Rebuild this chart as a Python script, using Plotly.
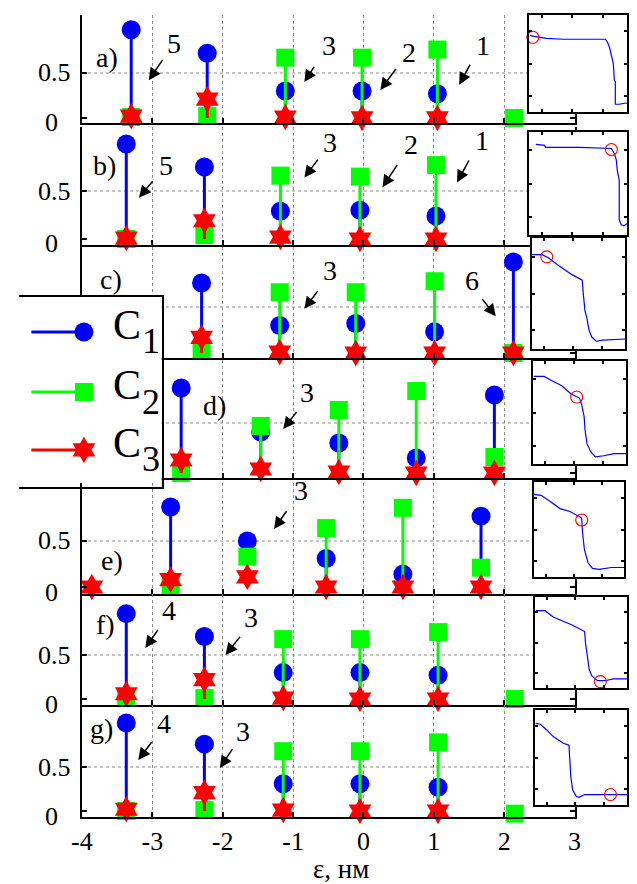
import plotly.graph_objects as go

FONT = "Liberation Serif"
BLUE, GREEN, RED = "#0000ff", "#00ff00", "#ff0000"
W, H = 637, 884

# ---------------- stem data: energy (x) and populations C1, C2, C3 ----------------
a_x = [-3.30, -2.22, -1.11, -0.02, 1.05, 2.14]
a_c1 = [0.98, 0.72, 0.30, 0.30, 0.27, None]
a_c2 = [0.01, 0.02, 0.67, 0.67, 0.76, 0.00]
a_c3 = [0.02, 0.21, 0.01, 0.00, 0.00, None]

b_x = [-3.37, -2.26, -1.18, -0.05, 1.03]
b_c1 = [0.99, 0.75, 0.29, 0.30, 0.24]
b_c2 = [0.00, 0.04, 0.66, 0.65, 0.77]
b_c3 = [0.01, 0.19, 0.02, 0.00, 0.00]

c_x = [-2.30, -1.19, -0.11, 1.01, 2.13]
c_c1 = [0.76, 0.30, 0.32, 0.23, 0.99]
c_c2 = [0.03, 0.66, 0.66, 0.78, 0.00]
c_c3 = [0.17, 0.01, 0.00, 0.00, 0.00]

d_x = [-2.59, -1.46, -0.35, 0.75, 1.86]
d_c1 = [0.85, 0.41, 0.30, 0.15, 0.78]
d_c2 = [0.00, 0.47, 0.63, 0.82, 0.16]
d_c3 = [0.13, 0.04, 0.01, 0.00, 0.00]

e_x = [-3.86, -2.74, -1.65, -0.53, 0.56, 1.67]
e_c1 = [None, 0.87, 0.50, 0.31, 0.14, 0.77]
e_c2 = [None, 0.00, 0.33, 0.64, 0.86, 0.21]
e_c3 = [0.00, 0.08, 0.11, 0.00, 0.00, 0.00]

f_x = [-3.37, -2.26, -1.14, -0.05, 1.06, 2.15]
f_c1 = [0.97, 0.71, 0.30, 0.30, 0.27, None]
f_c2 = [0.01, 0.01, 0.68, 0.68, 0.76, 0.00]
f_c3 = [0.06, 0.22, 0.01, 0.00, 0.00, None]

g_x = [-3.37, -2.26, -1.14, -0.05, 1.06, 2.15]
g_c1 = [1.00, 0.76, 0.31, 0.31, 0.27, None]
g_c2 = [0.00, 0.01, 0.68, 0.68, 0.78, -0.03]
g_c3 = [0.02, 0.21, 0.01, 0.00, 0.00, None]

x_ticks = [-4, -3, -2, -1, 0, 1, 2, 3]
x_ticktext = ["-4", "-3", "-2", "-1", "0", "1", "2", "3"]

# ---------------- inset curves (normalised coordinates) with marked point ----------------
ia_x = [0.01, 0.05, 0.18, 0.35, 0.78, 0.80, 0.82, 0.83, 0.86, 0.87, 0.88, 0.88, 0.92, 0.97, 1.00]
ia_y = [0.79, 0.78, 0.76, 0.75, 0.75, 0.72, 0.67, 0.62, 0.50, 0.33, 0.31, 0.08, 0.08, 0.09, 0.09]
ia_mark = (0.04, 0.77)

ib_x = [0.07, 0.16, 0.17, 0.44, 0.52, 0.84, 0.87, 0.89, 0.90, 0.92, 0.92, 0.94, 0.97, 1.00]
ib_y = [0.88, 0.87, 0.85, 0.85, 0.85, 0.84, 0.79, 0.73, 0.63, 0.53, 0.15, 0.10, 0.09, 0.11]
ib_mark = (0.84, 0.83)

ic_x = [0.00, 0.11, 0.18, 0.29, 0.43, 0.54, 0.55, 0.57, 0.59, 0.61, 0.64, 0.69, 0.76, 1.00]
ic_y = [0.85, 0.85, 0.82, 0.75, 0.67, 0.62, 0.51, 0.34, 0.28, 0.18, 0.11, 0.07, 0.08, 0.09]
ic_mark = (0.16, 0.83)

id_x = [0.01, 0.12, 0.20, 0.31, 0.41, 0.50, 0.52, 0.55, 0.56, 0.58, 0.62, 0.67, 0.76, 0.87, 1.00]
id_y = [0.85, 0.85, 0.81, 0.76, 0.68, 0.64, 0.59, 0.46, 0.33, 0.20, 0.12, 0.07, 0.08, 0.10, 0.10]
id_mark = (0.47, 0.65)

ie_x = [0.00, 0.08, 0.19, 0.29, 0.40, 0.47, 0.53, 0.54, 0.56, 0.60, 0.65, 0.72, 0.79, 0.86, 1.00]
ie_y = [0.87, 0.86, 0.79, 0.72, 0.69, 0.65, 0.62, 0.46, 0.29, 0.15, 0.09, 0.08, 0.09, 0.10, 0.10]
ie_mark = (0.53, 0.60)

if_x = [0.01, 0.11, 0.20, 0.31, 0.41, 0.54, 0.55, 0.57, 0.59, 0.62, 0.68, 0.76, 0.85, 1.00]
if_y = [0.85, 0.85, 0.78, 0.73, 0.69, 0.62, 0.49, 0.35, 0.20, 0.13, 0.08, 0.08, 0.10, 0.10]
if_mark = (0.71, 0.07)

ig_x = [0.01, 0.06, 0.13, 0.20, 0.31, 0.37, 0.38, 0.39, 0.41, 0.45, 0.48, 0.54, 0.66, 1.00]
ig_y = [0.86, 0.85, 0.79, 0.72, 0.65, 0.63, 0.47, 0.30, 0.16, 0.09, 0.08, 0.11, 0.11, 0.11]
ig_mark = (0.82, 0.11)

# ---------------- panel configuration ----------------
# axis number, pixel box (top, bottom), y range, label position, annotations
panels = [
    dict(key="a", n=1, box=(15, 123), yr=(-0.056, 1.144), x=a_x, c=(a_c1, a_c2, a_c3),
         label=(-3.65, 0.67), yt=True,
         arrows=[("5", -2.69, 0.83, -3.05, 0.42, 15, -22), ("3", -0.49, 0.81, -0.84, 0.40, 11, -17),
                 ("2", 0.65, 0.73, 0.24, 0.31, 17, -23), ("1", 1.70, 0.81, 1.36, 0.37, 12, -22)],
         inset=(ia_x, ia_y, ia_mark, (533, 634, 15, 112))),
    dict(key="b", n=2, box=(127, 245), yr=(-0.0625, 1.167), x=b_x, c=(b_c1, b_c2, b_c3),
         label=(-3.68, 0.77), yt=True,
         arrows=[("5", -2.81, 0.77, -3.19, 0.43, 15, -18), ("3", -0.48, 1.01, -0.84, 0.64, 15, -20),
                 ("2", 0.67, 0.98, 0.27, 0.54, 16, -24), ("1", 1.69, 1.03, 1.33, 0.59, 13, -24)],
         inset=(ib_x, ib_y, ib_mark, (533, 634, 132, 235))),
    dict(key="c", n=3, box=(247, 358), yr=(-0.054, 1.152), x=c_x, c=(c_c1, c_c2, c_c3),
         label=(-3.59, 0.80), yt=False,
         arrows=[("3", -0.48, 0.90, -0.84, 0.48, 15, -20), ("6", 1.54, 0.79, 1.88, 0.40, -15, -19)],
         inset=(ic_x, ic_y, ic_mark, (536, 632, 238, 349))),
    dict(key="d", n=4, box=(360, 478), yr=(-0.05, 1.13), x=d_x, c=(d_c1, d_c2, d_c3),
         label=(-2.12, 0.68), yt=False,
         arrows=[("3", -0.80, 0.81, -1.14, 0.44, 15, -19)],
         inset=(id_x, id_y, id_mark, (537, 633, 361, 464))),
    dict(key="e", n=6, box=(483, 594), yr=(-0.076, 1.13), x=e_x, c=(e_c1, e_c2, e_c3),
         label=(-3.57, 0.29), yt=True,
         arrows=[("3", -0.89, 1.05, -1.27, 0.63, 14, -20)],
         inset=(ie_x, ie_y, ie_mark, (538, 631, 482, 577))),
    dict(key="f", n=7, box=(594, 705), yr=(-0.068, 1.193), x=f_x, c=(f_c1, f_c2, f_c3),
         label=(-3.67, 0.85), yt=True,
         arrows=[("4", -2.76, 1.01, -3.10, 0.58, 14, -20), ("3", -1.60, 0.93, -1.96, 0.50, 16, -20)],
         inset=(if_x, if_y, if_mark, (539, 634, 597, 688))),
    dict(key="g", n=8, box=(705, 817), yr=(-0.068, 1.205), x=g_x, c=(g_c1, g_c2, g_c3),
         label=(-3.72, 0.94), yt=True,
         arrows=[("4", -2.84, 1.00, -3.20, 0.58, 15, -20), ("3", -1.71, 0.90, -2.04, 0.49, 14, -21)],
         inset=(ig_x, ig_y, ig_mark, (539, 634, 710, 805))),
]
LEGEND_N = 5

series_style = [
    dict(name="C1", color=BLUE, symbol="circle", size=19),
    dict(name="C2", color=GREEN, symbol="square", size=18),
    dict(name="C3", color=RED, symbol="hexagram", size=20),
]


def xn(n):
    return "x" if n == 1 else f"x{n}"


def yn(n):
    return "y" if n == 1 else f"y{n}"


def key_x(n):
    return "xaxis" if n == 1 else f"xaxis{n}"


def key_y(n):
    return "yaxis" if n == 1 else f"yaxis{n}"


def dom_x(l, r):
    return [l / W, r / W]


def dom_y(t, b):
    return [1 - b / H, 1 - t / H]


fig = go.Figure()
layout = {}
annotations = []
shapes = []

main_dom_x = dom_x(73, 580)

for p in panels:
    n = p["n"]
    # stems and heads, series drawn C1, C2, C3 in turn
    for vals, st in zip(p["c"], series_style):
        sx, sy, mx, my = [], [], [], []
        for x, v in zip(p["x"], vals):
            if v is None:
                continue
            sx += [x, x, None]
            sy += [0, v, None]
            mx.append(x)
            my.append(v)
        fig.add_trace(go.Scatter(x=sx, y=sy, mode="lines", line=dict(color=st["color"], width=3),
                                 xaxis=xn(n), yaxis=yn(n), showlegend=False, hoverinfo="skip"))
        fig.add_trace(go.Scatter(x=mx, y=my, mode="markers", cliponaxis=False,
                                 marker=dict(color=st["color"], symbol=st["symbol"], size=st["size"],
                                             line=dict(width=0)),
                                 xaxis=xn(n), yaxis=yn(n), showlegend=False, hoverinfo="skip"))

    layout[key_x(n)] = dict(
        domain=main_dom_x, anchor=yn(n), range=[-4, 3], tickmode="array",
        tickvals=x_ticks, ticktext=x_ticktext, ticks="inside", ticklen=5, tickwidth=1.5,
        tickcolor="black", showline=True, linewidth=1.5, linecolor="black", mirror=False,
        showgrid=True, gridcolor="#8c8c8c", griddash="dot", gridwidth=1, zeroline=False,
        showticklabels=(p["key"] == "g"), tickfont=dict(family=FONT, size=26, color="black"),
        ticklabelstandoff=0, fixedrange=True,
    )
    layout[key_y(n)] = dict(
        domain=dom_y(*p["box"]), anchor=xn(n), range=list(p["yr"]), tickmode="array",
        tickvals=[0, 0.5], ticks="inside", ticklen=5, tickwidth=1.5, tickcolor="black",
        showline=True, mirror="ticks", linewidth=1.5, linecolor="black",
        showgrid=False, zeroline=False, showticklabels=False, fixedrange=True,
    )
    # tick marks along the top edge (no line)
    tn = 16 + panels.index(p)
    layout[key_x(tn)] = dict(
        overlaying=xn(n), anchor=yn(n), side="top", range=[-4, 3], tickmode="array",
        tickvals=x_ticks, ticks="inside", ticklen=5, tickwidth=1.5, tickcolor="black",
        showline=False, showgrid=False, zeroline=False, showticklabels=False, fixedrange=True,
    )
    # horizontal grid line at 0.5
    shapes.append(dict(type="line", xref=xn(n), yref=yn(n), x0=-4, x1=3, y0=0.5, y1=0.5,
                       layer="below", line=dict(color="#8c8c8c", width=1, dash="dot")))

    # y tick labels
    if p["yt"]:
        annotations.append(dict(text="0.5", x=64 / W, xref="paper", y=0.5, yref=yn(n),
                                xanchor="right", yanchor="middle", showarrow=False,
                                font=dict(family=FONT, size=26, color="black")))
        annotations.append(dict(text="0", x=42 / W, xref="paper", y=0, yref=yn(n),
                                xanchor="center", yanchor="middle", yshift=-5, showarrow=False,
                                font=dict(family=FONT, size=26, color="black")))

    # panel label
    lx, ly = p["label"]
    annotations.append(dict(text=p["key"] + ")", x=lx, y=ly, xref=xn(n), yref=yn(n),
                            showarrow=False, xanchor="center", yanchor="middle",
                            font=dict(family=FONT, size=28, color="black")))

    # numbered arrows
    for txt, tx, ty, hx, hy, dx, dy in p["arrows"]:
        annotations.append(dict(text=txt, x=tx, y=ty, xref=xn(n), yref=yn(n), showarrow=False,
                                xanchor="center", yanchor="middle",
                                font=dict(family=FONT, size=28, color="black")))
        annotations.append(dict(text=" ", x=hx, y=hy, xref=xn(n), yref=yn(n), showarrow=True,
                                ax=dx, ay=dy, arrowhead=2, arrowsize=1.6, arrowwidth=1.5,
                                arrowcolor="black", font=dict(size=1), standoff=0, startstandoff=0))

# legend box (drawn as its own small axes)
legend_dom_x = dom_x(8, 155)
legend_dom_y = dom_y(297, 487)
legend_rows = [0.816, 0.5, 0.195]
for st, ry in zip(series_style, legend_rows):
    fig.add_trace(go.Scatter(x=[0.088, 0.456], y=[ry, ry], mode="lines",
                             line=dict(color=st["color"], width=3),
                             xaxis=xn(LEGEND_N), yaxis=yn(LEGEND_N), showlegend=False, hoverinfo="skip"))
    fig.add_trace(go.Scatter(x=[0.456], y=[ry], mode="markers", cliponaxis=False,
                             marker=dict(color=st["color"], symbol=st["symbol"], size=st["size"],
                                         line=dict(width=0)),
                             xaxis=xn(LEGEND_N), yaxis=yn(LEGEND_N), showlegend=False, hoverinfo="skip"))
    annotations.append(dict(text="C", x=0.755, y=ry + 0.037, xref=xn(LEGEND_N), yref=yn(LEGEND_N),
                            showarrow=False, xanchor="center", yanchor="middle",
                            font=dict(family=FONT, size=42, color="black")))
    annotations.append(dict(text=st["name"][1], x=0.925, y=ry - 0.05, xref=xn(LEGEND_N),
                            yref=yn(LEGEND_N), showarrow=False, xanchor="center", yanchor="middle",
                            font=dict(family=FONT, size=36, color="black")))

layout[key_x(LEGEND_N)] = dict(domain=legend_dom_x, anchor=yn(LEGEND_N), range=[0, 1],
                               showline=True, mirror=True, linewidth=1.5, linecolor="black",
                               ticks="", showticklabels=False, showgrid=False, zeroline=False,
                               fixedrange=True)
layout[key_y(LEGEND_N)] = dict(domain=legend_dom_y, anchor=xn(LEGEND_N), range=[0, 1], side="right",
                               showline=True, mirror=False, linewidth=1.5, linecolor="black",
                               ticks="", showticklabels=False, showgrid=False, zeroline=False,
                               fixedrange=True)

# insets
for i, p in enumerate(panels):
    m = 9 + i
    cx, cy, mark, (l, r, t, b) = p["inset"]
    fig.add_trace(go.Scatter(x=cx, y=cy, mode="lines", line=dict(color=BLUE, width=1.2),
                             xaxis=xn(m), yaxis=yn(m), showlegend=False, hoverinfo="skip"))
    fig.add_trace(go.Scatter(x=[mark[0]], y=[mark[1]], mode="markers", cliponaxis=False,
                             marker=dict(symbol="circle-open", size=12, color=RED, line=dict(width=1.1)),
                             xaxis=xn(m), yaxis=yn(m), showlegend=False, hoverinfo="skip"))
    common = dict(range=[0, 1], ticks="inside", ticklen=3, tickwidth=1.5, tickcolor="black",
                  showline=True, mirror="ticks", linewidth=1.5, linecolor="black",
                  showgrid=False, zeroline=False, showticklabels=False, fixedrange=True,
                  tickmode="array")
    layout[key_x(m)] = dict(domain=dom_x(l, r), anchor=yn(m), tickvals=[0.13, 0.44, 0.75], **common)
    layout[key_y(m)] = dict(domain=dom_y(t, b), anchor=xn(m), tickvals=[0.17, 0.5, 0.83], **common)

# axis title
annotations.append(dict(text="ε, нм", x=340 / W, y=1 - 869 / H, xref="paper", yref="paper",
                        showarrow=False, xanchor="center", yanchor="middle",
                        font=dict(family=FONT, size=27, color="black")))

fig.update_layout(
    width=W, height=H, margin=dict(l=0, r=0, t=0, b=0),
    paper_bgcolor="white", plot_bgcolor="white", showlegend=False,
    font=dict(family=FONT),
    annotations=annotations, shapes=shapes, **layout,
)

fig.write_html("out.html", config={"displayModeBar": False})
